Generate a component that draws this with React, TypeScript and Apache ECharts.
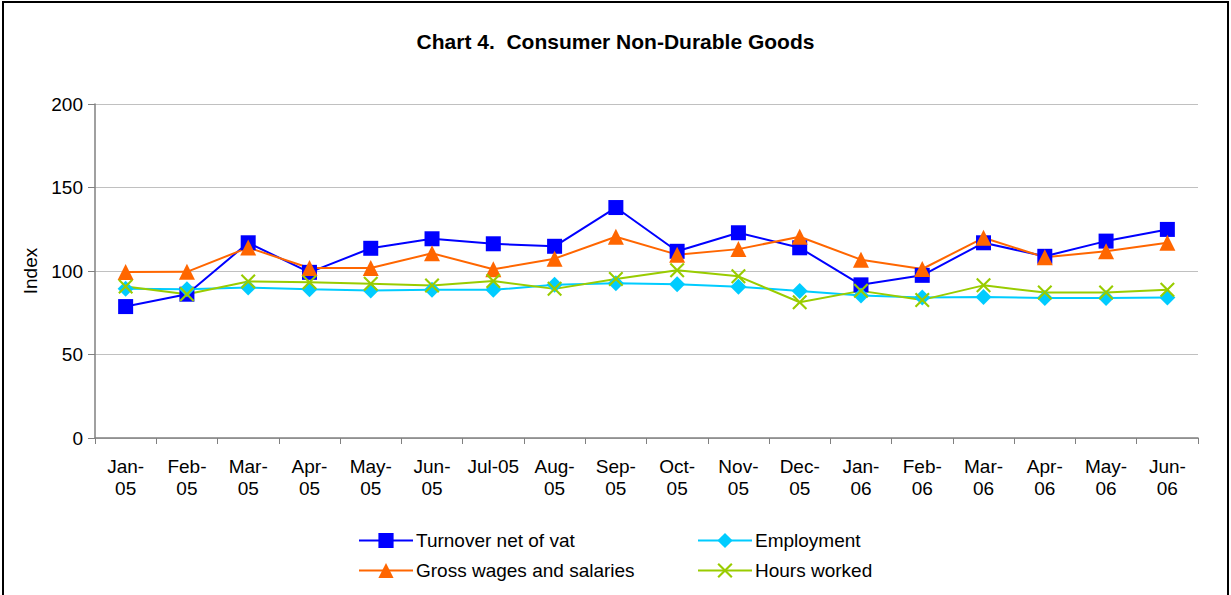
import React, { useEffect, useRef } from "react";
import * as echarts from "echarts";

const categories = [
  "Jan-\n05", "Feb-\n05", "Mar-\n05", "Apr-\n05", "May-\n05", "Jun-\n05",
  "Jul-05", "Aug-\n05", "Sep-\n05", "Oct-\n05", "Nov-\n05", "Dec-\n05",
  "Jan-\n06", "Feb-\n06", "Mar-\n06", "Apr-\n06", "May-\n06", "Jun-\n06",
];

const turnover = [78.7, 86.1, 116.9, 99.2, 113.6, 119.3, 116.3, 114.8, 138, 111.8, 122.9, 113.9, 91.7, 97.4, 116.9, 108.8, 117.9, 124.9];
const employment = [89.3, 89.0, 90.1, 89, 88.3, 88.7, 88.7, 91.7, 92.6, 92, 90.6, 88, 85.3, 84.1, 84.5, 83.9, 83.9, 84.1];
const grossWages = [99.4, 99.5, 114, 101.8, 101.8, 110.6, 101, 107.4, 120.5, 109.8, 113.1, 120.5, 106.8, 101.2, 119.9, 108.2, 111.8, 116.9];
const hoursWorked = [90.7, 86.1, 93.7, 93.3, 92.3, 91.3, 94, 89.3, 95.2, 100.4, 96.8, 81.3, 88.1, 82.7, 91.4, 87.1, 87.1, 88.7];

const yTicks = { min: 0, max: 200, interval: 50 };

const FONT = "'Liberation Sans', Arial, sans-serif";
const X_SYMBOL = "path://M0,1 L1,0 L5,4 L9,0 L10,1 L6,5 L10,9 L9,10 L5,6 L1,10 L0,9 L4,5 Z";

export default function App() {
  const ref = useRef<HTMLDivElement>(null);
  useEffect(() => {
    if (!ref.current) return;
    const chart = echarts.init(ref.current, null, { renderer: "svg" });
    const mk = (name: string, data: number[], color: string, symbol: string, size: number) => ({
      name,
      type: "line",
      data,
      symbol,
      symbolSize: size,
      showAllSymbol: true,
      lineStyle: { color, width: 2 },
      itemStyle: { color },
      emphasis: { disabled: true },
    });
    const legendBase = {
      top: 531,
      orient: "vertical",
      padding: 0,
      itemWidth: 54,
      itemHeight: 19,
      itemGap: 11,
      textStyle: { fontFamily: FONT, fontSize: 19, color: "#000", padding: [0, 0, 0, -2] },
    };
    chart.setOption({
      animation: false,
      backgroundColor: "#ffffff",
      textStyle: { fontFamily: FONT },
      title: {
        text: "Chart 4.  Consumer Non-Durable Goods",
        left: "center",
        top: 26,
        textStyle: { fontFamily: FONT, fontSize: 21, fontWeight: "bold", color: "#000" },
      },
      graphic: [
        {
          type: "rect",
          shape: { x: 3, y: 2, width: 1225, height: 640 },
          style: { fill: "none", stroke: "#000", lineWidth: 2 },
          silent: true,
        },
      ],
      legend: [
        { ...legendBase, left: 358, data: ["Turnover net of vat", "Gross wages and salaries"] },
        { ...legendBase, left: 697, data: ["Employment", "Hours worked"] },
      ],
      grid: { left: 95, right: 33, top: 104, bottom: 157 },
      xAxis: {
        type: "category",
        data: categories,
        boundaryGap: true,
        axisLine: { lineStyle: { color: "#808080", width: 1.5 } },
        axisTick: { show: true, length: 6, interval: 0, lineStyle: { color: "#808080" } },
        axisLabel: {
          interval: 0,
          fontFamily: FONT,
          fontSize: 19,
          lineHeight: 22,
          color: "#000",
          margin: 17,
        },
        splitLine: { show: false },
      },
      yAxis: {
        type: "value",
        min: yTicks.min,
        max: yTicks.max,
        interval: yTicks.interval,
        name: "Index",
        nameLocation: "middle",
        nameGap: 54,
        nameTextStyle: { fontFamily: FONT, fontSize: 19, color: "#000" },
        axisLine: { show: true, lineStyle: { color: "#808080", width: 1.5 } },
        axisTick: { show: true, length: 7, lineStyle: { color: "#808080" } },
        axisLabel: { fontFamily: FONT, fontSize: 19, color: "#000", margin: 12 },
        splitLine: { show: true, lineStyle: { color: "#c0c0c0", width: 1 } },
      },
      series: [
        mk("Turnover net of vat", turnover, "#0000ff", "rect", 15),
        mk("Employment", employment, "#00ccff", "diamond", 16),
        mk("Gross wages and salaries", grossWages, "#ff6600", "triangle", 16),
        mk("Hours worked", hoursWorked, "#99cc00", X_SYMBOL, 15),
      ],
    });
    return () => chart.dispose();
  }, []);
  return (
    <div
      ref={ref}
      style={{ position: "absolute", left: 0, top: 0, width: 1231, height: 595 }}
    />
  );
}
